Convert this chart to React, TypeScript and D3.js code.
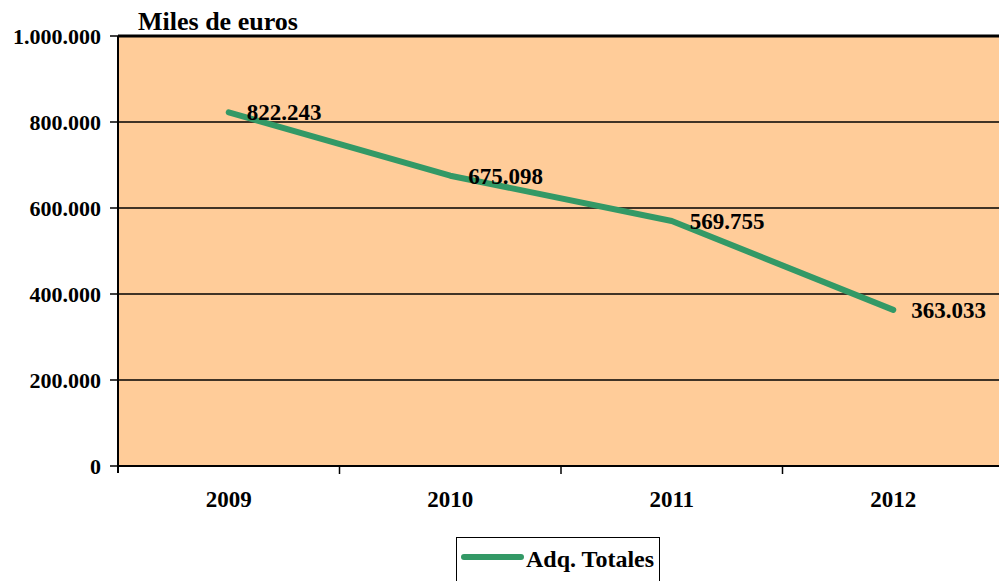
import React from "react";
import * as d3 from "d3";

const years = ["2009", "2010", "2011", "2012"];
const values = [822243, 675098, 569755, 363033];
const yTicks = [0, 200000, 400000, 600000, 800000, 1000000];
const seriesName = "Adq. Totales";
const unitTitle = "Miles de euros";

const W = 999;
const H = 581;
const left = 118;
const top = 37;
const bottom = 466;
const bandW = 221.5;

const fmt = (v: number) => d3.format(",")(v).replace(/,/g, ".");

export default function App() {
  const x = d3
    .scaleBand<string>()
    .domain(years)
    .range([left, left + bandW * years.length]);
  const y = d3.scaleLinear().domain([0, 1000000]).range([bottom, top - 1]);
  const cx = (d: string) => (x(d) as number) + x.bandwidth() / 2;
  const line = d3
    .line<number>()
    .x((_, i) => cx(years[i]))
    .y((v) => y(v));
  const right = left + bandW * years.length;

  return (
    <svg
      width={W}
      height={H}
      style={{
        position: "absolute",
        left: 0,
        top: 0,
        background: "#fff",
        fontFamily: "'Liberation Serif', 'Times New Roman', serif",
        fontWeight: "bold",
      }}
    >
      <rect x={left} y={y(1000000)} width={right - left} height={bottom - y(1000000)} fill="#FFCC99" />
      {yTicks.map((t) => (
        <g key={t}>
          <line x1={left} x2={right} y1={y(t)} y2={y(t)} stroke="#000" strokeWidth={t === 1000000 ? 3 : 1.5} />
          <line x1={110} x2={left} y1={y(t)} y2={y(t)} stroke="#000" strokeWidth={1.5} />
          <text x={101} y={y(t)} dy="0.35em" textAnchor="end" fontSize={22}>
            {fmt(t)}
          </text>
        </g>
      ))}
      <line x1={left} x2={left} y1={y(1000000)} y2={bottom + 7} stroke="#000" strokeWidth={2} />
      <line x1={left} x2={right} y1={bottom} y2={bottom} stroke="#000" strokeWidth={2} />
      {years.map((yr, i) => (
        <g key={yr}>
          {i > 0 && (
            <line x1={x(yr) as number} x2={x(yr) as number} y1={bottom} y2={bottom + 8} stroke="#000" strokeWidth={1.5} />
          )}
          <text x={cx(yr)} y={507} textAnchor="middle" fontSize={23}>
            {yr}
          </text>
        </g>
      ))}
      <path d={line(values) || ""} fill="none" stroke="#339966" strokeWidth={6} strokeLinecap="round" strokeLinejoin="round" />
      {values.map((v, i) => (
        <text key={i} x={cx(years[i]) + 18} y={y(v)} dy="0.35em" fontSize={23}>
          {fmt(v)}
        </text>
      ))}
      <text x={138} y={30} fontSize={26}>
        {unitTitle}
      </text>
      <rect x={456.5} y={537.5} width={203} height={60} fill="#fff" stroke="#000" strokeWidth={1} />
      <line x1={464} x2={521} y1={557} y2={557} stroke="#339966" strokeWidth={6} strokeLinecap="round" />
      <text x={526} y={567} fontSize={24}>
        {seriesName}
      </text>
    </svg>
  );
}
